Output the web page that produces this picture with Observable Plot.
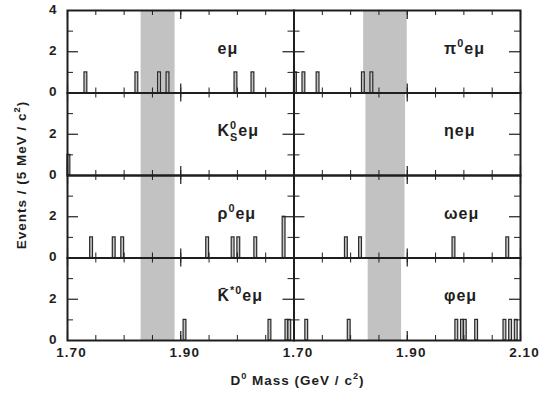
<!DOCTYPE html>
<html><head><meta charset="utf-8">
<script src="https://cdn.jsdelivr.net/npm/d3@7"></script>
<script src="https://cdn.jsdelivr.net/npm/@observablehq/plot@0.6"></script>
<style>
body{margin:0;background:#fff;}
svg text{letter-spacing:1px;}
</style>
</head><body><div id="chart"></div>
<script>
// ---- data ----
const binWidth = 0.005; // 5 MeV bins
const xMinorTicks = [1.70,1.75,1.80,1.85,1.90,1.95,2.00,2.05,2.10];
const xMajorTicks = [1.70,1.90,2.10];
const xLabelValuesLeft = [1.70,1.90];
const xLabelValuesRight = [1.70,1.90,2.10];
const yMinorTicks = [1,3];
const yMajorTicks = [2];
const yLabelValuesTop = [0,2,4];
const yLabelValuesOther = [0,2];

const panelCols = [0,0,0,0,1,1,1,1];
const panelRows = [0,1,2,3,0,1,2,3];
const panelLabels = ["e\u03BC","K^0_Se\u03BC","\u03C1^0e\u03BC","K\u0304^{*0}e\u03BC","\u03C0^0e\u03BC","\u03B7e\u03BC","\u03C9e\u03BC","\u03C6e\u03BC"];
const bandLo = [1.830,1.830,1.830,1.830,1.823,1.827,1.827,1.831];
const bandHi = [1.890,1.890,1.890,1.890,1.900,1.897,1.896,1.890];

// bin low edges (GeV/c^2) and counts, per panel
const binsEMu   = [1.730,1.820,1.860,1.875,1.995,2.025];
const countsEMu = [1,1,1,1,1,1];
const binsKsEMu   = [1.700];
const countsKsEMu = [1];
const binsRhoEMu   = [1.740,1.780,1.795,1.945,1.990,2.000,2.030,2.080];
const countsRhoEMu = [1,1,1,1,1,1,1,2];
const binsKstEMu   = [1.905,2.055,2.085,2.090];
const countsKstEMu = [1,1,1,1];
const binsPi0EMu   = [1.700,1.715,1.740,1.820,1.835];
const countsPi0EMu = [1,1,1,1,1];
const binsEtaEMu   = [];
const countsEtaEMu = [];
const binsOmegaEMu   = [1.790,1.815,1.980,2.075];
const countsOmegaEMu = [1,1,1,1];
const binsPhiEMu   = [1.720,1.795,1.985,1.995,2.000,2.020,2.070,2.080,2.090];
const countsPhiEMu = [1,1,1,1,1,1,1,1,1];

const panelBins = [binsEMu,binsKsEMu,binsRhoEMu,binsKstEMu,binsPi0EMu,binsEtaEMu,binsOmegaEMu,binsPhiEMu];
const panelCounts = [countsEMu,countsKsEMu,countsRhoEMu,countsKstEMu,countsPi0EMu,countsEtaEMu,countsOmegaEMu,countsPhiEMu];

// ---- tables ----
const panels = panelLabels.map((label,i)=>({label, col:panelCols[i], row:panelRows[i], lo:bandLo[i], hi:bandHi[i]}));
const bars = panelBins.flatMap((bins,i)=>bins.map((m,j)=>({m, n:panelCounts[i][j], col:panelCols[i], row:panelRows[i]})));
const xLabelData = [
  ...xLabelValuesLeft.map(v=>({v, col:0, row:3})),
  ...xLabelValuesRight.map(v=>({v, col:1, row:3}))
];
const yLabelData = [0,1,2,3].flatMap(r => (r===0?yLabelValuesTop:yLabelValuesOther).map(v=>({v, col:0, row:r})));

const W = 554, H = 402, mL = 67, mR = 34, mT = 10, mB = 62;
const facetW = (W-mL-mR)/2, facetH = (H-mT-mB)/4;
const ink = "#1e1e1e";
const font = "'Liberation Sans', Arial, Helvetica, sans-serif";

const plot = Plot.plot({
  width: W, height: H,
  marginLeft: mL, marginRight: mR, marginTop: mT, marginBottom: mB,
  style: {fontFamily: font, background: "#fff", overflow: "visible"},
  x: {domain: [1.70, 2.10], axis: null},
  y: {domain: [0, 4], axis: null},
  fx: {domain: [0,1], padding: 0, axis: null, round: false},
  fy: {domain: [0,1,2,3], padding: 0, axis: null, round: false},
  marks: [
    Plot.rect(panels, {x1: "lo", x2: "hi", fx: "col", fy: "row", fill: "#c2c2c2"}),
    Plot.rect(bars, {x1: "m", x2: d => d.m + binWidth, y1: 0, y2: "n", fx: "col", fy: "row",
      fill: "#c4c4c4", stroke: "#2a2a2a", strokeWidth: 1.2}),
    // inward x ticks (bottom and top of every panel)
    Plot.tickX(xMinorTicks, {x: d => d, insetTop: facetH - 5, stroke: ink, strokeWidth: 1}),
    Plot.tickX(xMinorTicks, {x: d => d, insetBottom: facetH - 5, stroke: ink, strokeWidth: 1}),
    Plot.tickX(xMajorTicks, {x: d => d, insetTop: facetH - 9, stroke: ink, strokeWidth: 1.2}),
    Plot.tickX(xMajorTicks, {x: d => d, insetBottom: facetH - 9, stroke: ink, strokeWidth: 1.2}),
    // inward y ticks (left and right of every panel)
    Plot.tickY(yMinorTicks, {y: d => d, insetRight: facetW - 6, stroke: ink, strokeWidth: 1}),
    Plot.tickY(yMinorTicks, {y: d => d, insetLeft: facetW - 6, stroke: ink, strokeWidth: 1}),
    Plot.tickY(yMajorTicks, {y: d => d, insetRight: facetW - 11, stroke: ink, strokeWidth: 1.2}),
    Plot.tickY(yMajorTicks, {y: d => d, insetLeft: facetW - 11, stroke: ink, strokeWidth: 1.2}),
    Plot.frame({stroke: ink, strokeWidth: 2}),
    // tick labels
    Plot.text(xLabelData, {x: "v", fx: "col", fy: "row", text: d => d3.format(".2f")(d.v),
      frameAnchor: "bottom", dy: 16, dx: 4, fontSize: 13.5, fontWeight: "bold", fill: ink}),
    Plot.text(yLabelData, {y: "v", fx: "col", fy: "row", text: d => String(d.v),
      frameAnchor: "left", dx: -10, dy: -1, textAnchor: "end", fontSize: 13.5, fontWeight: "bold", fill: ink}),
    // panel labels
    Plot.text(panels, {fx: "col", fy: "row", text: "label", frameAnchor: "top-left", dx: 150, dy: 32,
      textAnchor: "start", fontSize: 16, fontWeight: "bold", fill: ink})
  ]
});
document.getElementById("chart").append(plot);

// rich text: ^x superscript, _x subscript (stacked under preceding superscript)
function rich(el, s, fs) {
  while (el.firstChild) el.removeChild(el.firstChild);
  const ns = "http://www.w3.org/2000/svg";
  const re = /\^\{([^}]*)\}|\^(.)|_\{([^}]*)\}|_(.)|([^^_]+)/gu;
  let m, cur = 0, lastSup = null;
  while ((m = re.exec(s))) {
    const sup = m[1] ?? m[2], sub = m[3] ?? m[4], txt = m[5];
    const t = document.createElementNS(ns, "tspan");
    let target, content, small = false, dx = 0;
    if (sup !== undefined) { target = -0.45*fs; content = sup; small = true; }
    else if (sub !== undefined) { target = 0.32*fs; content = sub; small = true;
      if (lastSup) { const w = lastSup.getComputedTextLength(); dx = -(w || content.length*0.6*0.68*fs); } }
    else { target = 0; content = txt; }
    if (target !== cur) t.setAttribute("dy", target - cur);
    cur = target;
    if (small) t.setAttribute("font-size", 0.68*fs);
    if (dx) t.setAttribute("dx", dx);
    t.textContent = content;
    el.appendChild(t);
    lastSup = sup !== undefined ? t : null;
  }
}

const svg = d3.select(plot);
svg.selectAll("text").filter(function(){ return panelLabels.includes(this.textContent); })
  .each(function(){ rich(this, this.textContent, 16); });

const xTitle = svg.append("text")
  .attr("x", (mL + W - mR)/2 + 4).attr("y", 385)
  .attr("text-anchor", "middle").attr("font-size", 13.5).attr("font-weight", "bold")
  .attr("fill", ink).attr("font-family", font);
rich(xTitle.node(), "D^0 Mass (GeV / c^2)", 13.5);

const yTitle = svg.append("text")
  .attr("transform", `translate(26,${(mT + H - mB)/2}) rotate(-90)`)
  .attr("text-anchor", "middle").attr("font-size", 13.5).attr("font-weight", "bold")
  .attr("fill", ink).attr("font-family", font);
rich(yTitle.node(), "Events / (5 MeV / c^2)", 13.5);
</script>
</body></html>
